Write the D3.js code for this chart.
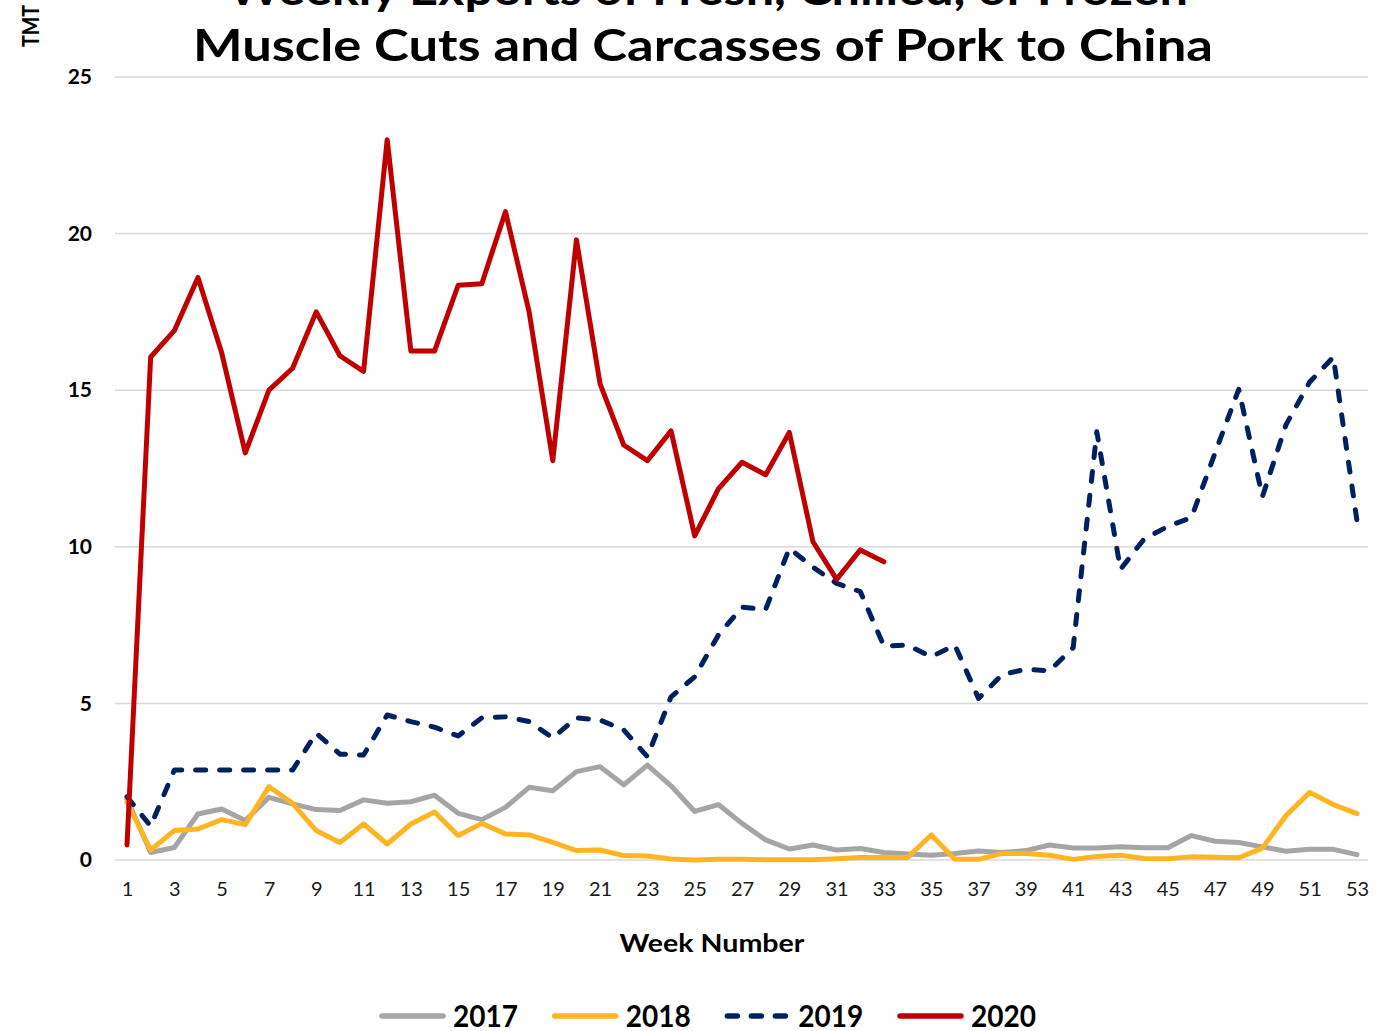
<!DOCTYPE html>
<html>
<head>
<meta charset="utf-8">
<script src="https://cdn.jsdelivr.net/npm/d3@7"></script>
<style>
  html, body { margin: 0; padding: 0; background: #ffffff; }
  svg { display: block; }
  text { font-family: "Century Gothic", "Lato", "DejaVu Sans", sans-serif; }
</style>
</head>
<body>
<svg id="chart" width="1388" height="1031"></svg>
<script>
// ---------- data ----------
const weeks = d3.range(1, 54);
const xTickLabels = d3.range(1, 54, 2);
const yTickLabels = [0, 5, 10, 15, 20, 25];
const seriesNames = ["2017", "2018", "2019", "2020"];
const seriesColors = ["#a5a5a5", "#ffb521", "#002060", "#c00000"];

const values2017 = [1.95, 0.24, 0.40, 1.47, 1.63, 1.26, 2.00, 1.79, 1.61, 1.58,
  1.92, 1.81, 1.86, 2.07, 1.49, 1.29, 1.68, 2.32, 2.21, 2.82,
  2.98, 2.40, 3.03, 2.37, 1.55, 1.77, 1.17, 0.64, 0.35, 0.48,
  0.32, 0.37, 0.24, 0.19, 0.15, 0.21, 0.29, 0.24, 0.30, 0.48,
  0.38, 0.38, 0.42, 0.39, 0.39, 0.78, 0.60, 0.56, 0.42, 0.28,
  0.34, 0.34, 0.17];
const values2018 = [1.85, 0.32, 0.94, 0.99, 1.29, 1.13, 2.34, 1.81, 0.94, 0.56,
  1.15, 0.51, 1.15, 1.53, 0.78, 1.17, 0.83, 0.80, 0.56, 0.30,
  0.32, 0.14, 0.13, 0.03, 0.00, 0.02, 0.02, 0.01, 0.01, 0.01,
  0.04, 0.08, 0.08, 0.08, 0.80, 0.02, 0.02, 0.21, 0.21, 0.15,
  0.02, 0.11, 0.15, 0.05, 0.04, 0.10, 0.09, 0.07, 0.38, 1.42,
  2.16, 1.77, 1.48];
const values2019 = [2.02, 1.08, 2.87, 2.87, 2.87, 2.87, 2.87, 2.87, 4.05, 3.38,
  3.35, 4.63, 4.42, 4.24, 3.96, 4.54, 4.57, 4.42, 3.90, 4.54,
  4.47, 4.15, 3.30, 5.21, 5.85, 7.18, 8.07, 8.00, 9.95, 9.35,
  8.83, 8.57, 6.83, 6.86, 6.49, 6.86, 5.16, 5.92, 6.09, 6.04,
  6.78, 13.67, 9.28, 10.25, 10.65, 10.93, 13.00, 15.03, 11.60, 13.90,
  15.26, 16.06, 10.82];
const values2020 = [0.48, 16.06, 16.90, 18.60, 16.20, 13.00, 15.00, 15.70, 17.50, 16.10,
  15.60, 23.00, 16.25, 16.25, 18.35, 18.40, 20.70, 17.50, 12.75, 19.80,
  15.20, 13.25, 12.75, 13.70, 10.35, 11.85, 12.70, 12.30, 13.65, 10.16,
  8.96, 9.90, 9.52];

const allValues = [values2017, values2018, values2019, values2020];

// ---------- layout ----------
const svg = d3.select("#chart");
const plotLeft = 115, plotRight = 1368, plotTop = 77, plotBottom = 860;

const x = d3.scaleLinear().domain([1, 53]).range([127, 1357]);
const y = d3.scaleLinear().domain([0, 25]).range([plotBottom, plotTop]);

// gridlines
svg.append("g").selectAll("line")
  .data(yTickLabels)
  .join("line")
  .attr("x1", plotLeft).attr("x2", plotRight)
  .attr("y1", d => y(d)).attr("y2", d => y(d))
  .attr("stroke", "#d9d9d9").attr("stroke-width", 1.5);

// y axis
const yAxis = svg.append("g")
  .attr("transform", `translate(${plotLeft},0)`)
  .call(d3.axisLeft(y).tickValues(yTickLabels).tickSize(0).tickPadding(23));
yAxis.select(".domain").remove();
yAxis.selectAll("text")
  .attr("font-size", 21).attr("font-weight", "bold").attr("fill", "#000")
  .style("font-family", "'Century Gothic', 'Lato', sans-serif");

// x axis
const xAxis = svg.append("g")
  .attr("transform", `translate(0,${plotBottom})`)
  .call(d3.axisBottom(x).tickValues(xTickLabels).tickSize(0).tickPadding(22));
xAxis.select(".domain").remove();
xAxis.selectAll("text")
  .attr("font-size", 20).attr("fill", "#1a1a1a")
  .style("font-family", "'Century Gothic', 'Lato', sans-serif");

// lines
const line = d3.line().x((d, i) => x(weeks[i])).y(d => y(d));
allValues.forEach((vals, k) => {
  const p = svg.append("path")
    .datum(vals)
    .attr("d", line)
    .attr("fill", "none")
    .attr("stroke", seriesColors[k])
    .attr("stroke-width", 5)
    .attr("stroke-linejoin", "round")
    .attr("stroke-linecap", "round");
  if (seriesNames[k] === "2019") p.attr("stroke-dasharray", "10,14");
});

// title
const title = svg.append("g").attr("font-weight", "bold").attr("fill", "#000");
title.append("text")
  .attr("x", 708).attr("y", 5).attr("text-anchor", "middle")
  .attr("font-size", 44)
  .attr("textLength", 960).attr("lengthAdjust", "spacingAndGlyphs")
  .text("Weekly Exports of Fresh, Chilled, or Frozen");
title.append("text")
  .attr("x", 703).attr("y", 61).attr("text-anchor", "middle")
  .attr("font-size", 44)
  .attr("textLength", 1020).attr("lengthAdjust", "spacingAndGlyphs")
  .text("Muscle Cuts and Carcasses of Pork to China");

// y axis title
svg.append("text")
  .attr("transform", "translate(39,26) rotate(-90)")
  .attr("text-anchor", "middle")
  .attr("font-size", 22).attr("font-weight", "bold")
  .attr("textLength", 42).attr("lengthAdjust", "spacingAndGlyphs")
  .text("TMT");

// x axis title
svg.append("text")
  .attr("x", 712).attr("y", 952).attr("text-anchor", "middle")
  .attr("font-size", 24).attr("font-weight", "bold")
  .attr("textLength", 185).attr("lengthAdjust", "spacingAndGlyphs")
  .text("Week Number");

// legend
const legend = svg.append("g");
const legendX = d3.scalePoint().domain(seriesNames).range([380, 898]);
seriesNames.forEach((name, k) => {
  const lx = legendX(name);
  const ln = legend.append("line")
    .attr("x1", lx + 2).attr("x2", lx + 63)
    .attr("y1", 1016).attr("y2", 1016)
    .attr("stroke", seriesColors[k]).attr("stroke-width", 5.5)
    .attr("stroke-linecap", "round");
  if (name === "2019") ln.attr("stroke-dasharray", "10,14");
  legend.append("text")
    .attr("x", lx + 73).attr("y", 1027)
    .attr("font-size", 30).attr("font-weight", "bold")
    .attr("textLength", 65).attr("lengthAdjust", "spacingAndGlyphs")
    .text(name);
});
</script>
</body>
</html>
